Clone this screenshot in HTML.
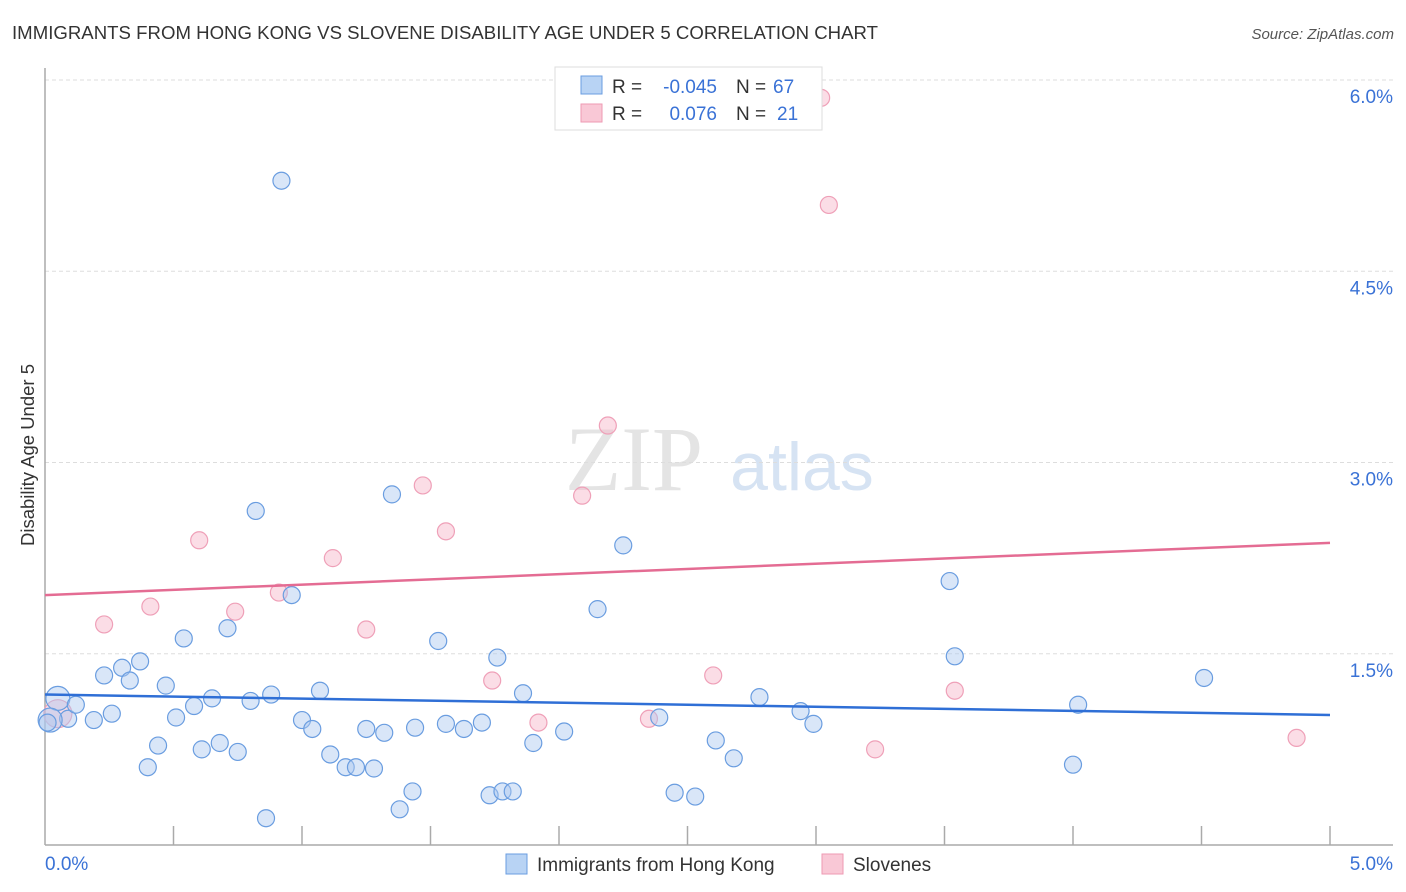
<!DOCTYPE html>
<html><head><meta charset="utf-8">
<style>
body{margin:0;background:#fff;font-family:"Liberation Sans",sans-serif;}
#wrap{position:relative;width:1406px;height:892px;overflow:hidden;}
</style></head>
<body>
<div id="wrap">
<svg id="svg" width="1406" height="892" xmlns="http://www.w3.org/2000/svg">
<text x="12" y="39" font-size="18.6" fill="#333" textLength="866">IMMIGRANTS FROM HONG KONG VS SLOVENE DISABILITY AGE UNDER 5 CORRELATION CHART</text>
<text x="1394" y="39" font-size="15" fill="#555" font-style="italic" text-anchor="end">Source: ZipAtlas.com</text>
<text x="634" y="490" font-size="92" fill="#e4e4e4" font-family="Liberation Serif,serif" text-anchor="middle">ZIP</text>
<text x="802" y="490" font-size="68" fill="#d6e3f3" text-anchor="middle">atlas</text>
<text transform="translate(34,455) rotate(-90)" font-size="18.5" fill="#333" text-anchor="middle">Disability Age Under 5</text>
<g id="grid"></g><g id="axes"></g><g id="pts"></g><g id="trend"></g>
<g>
<rect x="555" y="67" width="267" height="63" fill="#fff" stroke="#ddd"/>
<rect x="581" y="76" width="21" height="18" fill="#b8d3f4" stroke="#6a9de0"/>
<rect x="581" y="104" width="21" height="18" fill="#f9c8d6" stroke="#ee9ab3"/>
<text y="93" font-size="19" fill="#333"><tspan x="612">R =</tspan><tspan x="717" text-anchor="end" fill="#3a72d6">-0.045</tspan><tspan x="736">N =</tspan><tspan x="773" fill="#3a72d6">67</tspan></text>
<text y="120" font-size="19" fill="#333"><tspan x="612">R =</tspan><tspan x="717" text-anchor="end" fill="#3a72d6">0.076</tspan><tspan x="736">N =</tspan><tspan x="777" fill="#3a72d6">21</tspan></text>
</g>
<g>
<rect x="506" y="854" width="21" height="20" fill="#b8d3f4" stroke="#6a9de0"/>
<text x="537" y="871" font-size="19" fill="#333">Immigrants from Hong Kong</text>
<rect x="822" y="854" width="21" height="20" fill="#f9c8d6" stroke="#ee9ab3"/>
<text x="853" y="871" font-size="19" fill="#333">Slovenes</text>
</g>
</svg>
</div>
<script>
const yTicks=[1.5,3.0,4.5,6.0];
const yTickLabels=["1.5%","3.0%","4.5%","6.0%"];
const xTicks=[0.5,1,1.5,2,2.5,3,3.5,4,4.5,5];
const blueX=[0.05,0.09,0.12,0.19,0.23,0.26,0.30,0.33,0.37,0.40,0.44,0.47,0.51,0.54,0.58,0.61,0.65,0.68,0.71,0.75,0.80,0.82,0.86,0.88,0.92,0.96,1.00,1.04,1.07,1.11,1.17,1.21,1.25,1.28,1.32,1.35,1.38,1.43,1.44,1.53,1.56,1.63,1.70,1.73,1.76,1.78,1.82,1.86,1.90,2.02,2.15,2.25,2.39,2.45,2.53,2.61,2.68,2.78,2.94,2.99,3.52,3.54,4.00,4.02,4.51,0.02,0.01];
const blueY=[1.15,0.99,1.10,0.98,1.33,1.03,1.39,1.29,1.44,0.61,0.78,1.25,1.00,1.62,1.09,0.75,1.15,0.80,1.70,0.73,1.13,2.62,0.21,1.18,5.21,1.96,0.98,0.91,1.21,0.71,0.61,0.61,0.91,0.60,0.88,2.75,0.28,0.42,0.92,1.60,0.95,0.91,0.96,0.39,1.47,0.42,0.42,1.19,0.80,0.89,1.85,2.35,1.00,0.41,0.38,0.82,0.68,1.16,1.05,0.95,2.07,1.48,0.63,1.10,1.31,0.98,0.96];
const pinkX=[0.05,0.23,0.41,0.60,0.74,0.91,1.12,1.25,1.47,1.56,1.74,1.92,2.09,2.19,2.35,2.60,3.02,3.05,3.23,3.54,4.87];
const pinkY=[1.03,1.73,1.87,2.39,1.83,1.98,2.25,1.69,2.82,2.46,1.29,0.96,2.74,3.29,0.99,1.33,5.86,5.02,0.75,1.21,0.84];
const blueTrend=[1.18,1.02];
const pinkTrend=[1.96,2.37];
const xs=v=>45+v*257, ys=v=>845-v*127.5;
const NS="http://www.w3.org/2000/svg";
function mk(p,t,a){const e=document.createElementNS(NS,t);for(const k in a)e.setAttribute(k,a[k]);p.appendChild(e);return e;}
const grid=document.getElementById('grid'),axes=document.getElementById('axes'),pts=document.getElementById('pts'),tr=document.getElementById('trend');
yTicks.forEach((v,i)=>{
 const l=mk(grid,'line',{x1:45,x2:1393,y1:ys(v),y2:ys(v),stroke:'#ddd','stroke-dasharray':'4,3'});
 
 
 const t=mk(grid,'text',{x:1393,y:ys(v)+23,'font-size':19,fill:'#3a72d6','text-anchor':'end'});
 t.textContent=yTickLabels[i];
 
 
});
mk(axes,'line',{x1:45,x2:45,y1:68,y2:845,stroke:'#aaa','stroke-width':1.5});
mk(axes,'line',{x1:45,x2:1393,y1:845,y2:845,stroke:'#aaa','stroke-width':1.5});
xTicks.forEach(v=>{
 const l=mk(axes,'line',{x1:xs(v),x2:xs(v),y1:826,y2:845,stroke:'#aaa','stroke-width':1.5});
 
 
});
const t0=mk(axes,'text',{x:45,y:870,'font-size':19,fill:'#3a72d6'});t0.textContent='0.0%';


const t1=mk(axes,'text',{x:1393,y:870,'font-size':19,fill:'#3a72d6','text-anchor':'end'});t1.textContent='5.0%';


pinkX.forEach((x,i)=>{
 const c=mk(pts,'circle',{cx:xs(x),cy:ys(pinkY[i]),r:i==0?14:8.5,fill:'rgba(246,180,200,0.45)',stroke:'#efa0b8','stroke-width':1.2});
 
 
});
blueX.forEach((x,i)=>{
 const c=mk(pts,'circle',{cx:xs(x),cy:ys(blueY[i]),r:(i==0||i==65)?12:8.5,fill:'rgba(170,200,240,0.45)',stroke:'#6a9de0','stroke-width':1.2});
 
 
});
const bl=mk(tr,'line',{x1:xs(0),x2:xs(5),y1:ys(blueTrend[0]),y2:ys(blueTrend[1]),stroke:'#2f6fd6','stroke-width':2.5});


const pl=mk(tr,'line',{x1:xs(0),x2:xs(5),y1:ys(pinkTrend[0]),y2:ys(pinkTrend[1]),stroke:'#e46c93','stroke-width':2.5});


</script>
</body></html>
